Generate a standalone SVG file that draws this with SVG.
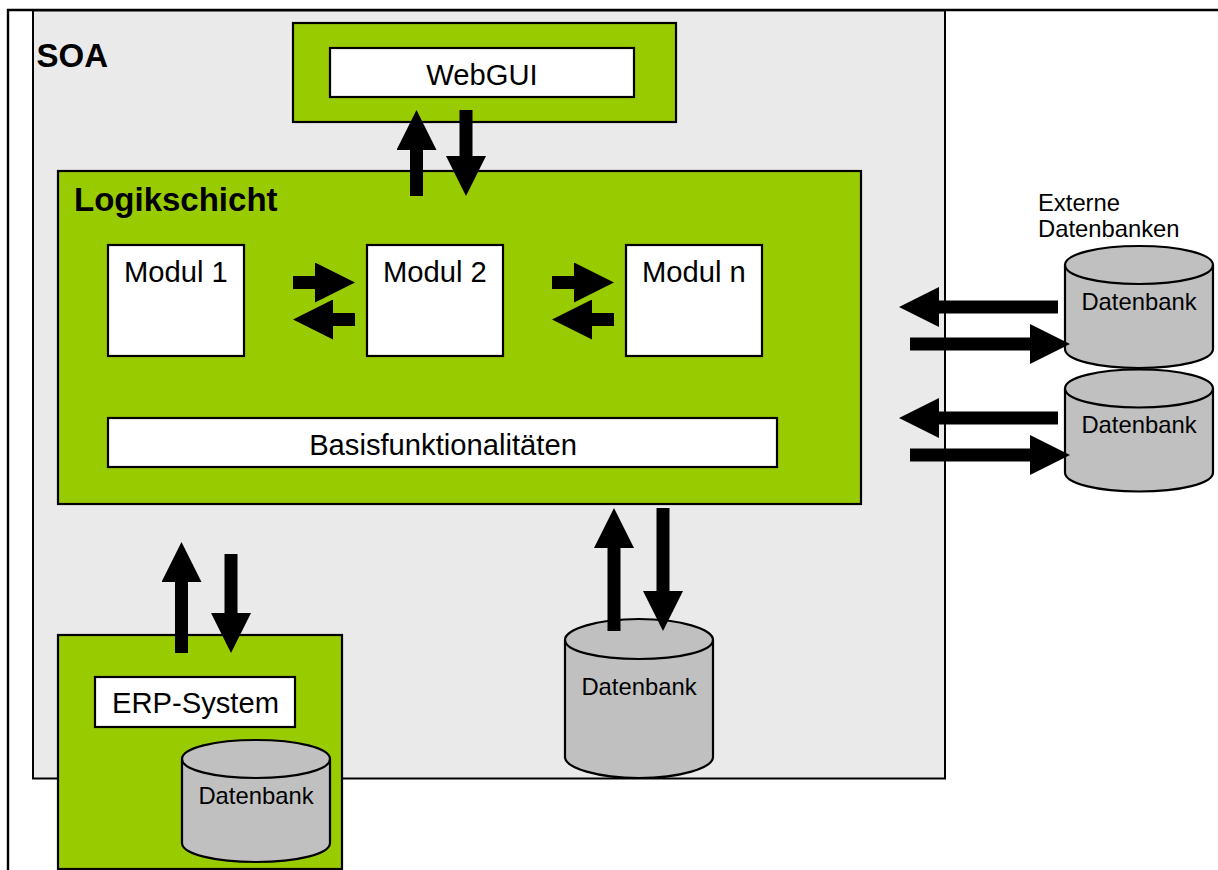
<svg xmlns="http://www.w3.org/2000/svg" width="1218" height="870" viewBox="0 0 1218 870">
<style>
text{font-family:"Liberation Sans",Arial,sans-serif;fill:#000}
.g{fill:#99cc00;stroke:#000;stroke-width:2.2}
.w{fill:#fff;stroke:#000;stroke-width:2.2}
.c{fill:#c0c0c0;stroke:#000;stroke-width:2.2}
.n{fill:none;stroke:#000;stroke-width:2.2}
.l{font-size:29.2px}
.d{font-size:23.8px}
.b{font-weight:bold;font-size:33px}
.a{stroke:#000;stroke-width:13;fill:none;marker-end:url(#h)}
</style>
<defs>
<marker id="h" markerUnits="userSpaceOnUse" markerWidth="41" markerHeight="40" refX="0" refY="20" orient="auto"><path d="M0,0L40,20L0,40Z" fill="#000"/></marker>
<g id="cyl"><path class="c" d="M0,19C0,8 33,0 74,0S148,8 148,19V103C148,114 115,122 74,122S0,114 0,103Z"/><path class="n" d="M0,19C0,30 33,38 74,38S148,30 148,19"/></g>
</defs>
<rect width="1218" height="870" fill="#fff"/>
<g id="frame"><path d="M1218,10H8V870" fill="none" stroke="#000" stroke-width="2.4"/></g>
<g id="soa"><rect x="33" y="10.500" width="912" height="768" fill="#eaeaea" stroke="#000" stroke-width="2"/><text class="b" x="36.500" y="67">SOA</text></g>
<g id="webgui"><rect class="g" x="293" y="23" width="383" height="99"/><rect class="w" x="330" y="48" width="304" height="49"/><text class="l" x="482" y="85" text-anchor="middle">WebGUI</text></g>
<g id="logikschicht"><rect class="g" x="58" y="171" width="803" height="333"/><text class="b" x="74" y="211">Logikschicht</text></g>
<g id="modul1"><rect class="w" x="108" y="245" width="136" height="111"/><text class="l" x="124" y="282">Modul 1</text></g>
<g id="modul2"><rect class="w" x="367" y="245" width="136" height="111"/><text class="l" x="383" y="282">Modul 2</text></g>
<g id="moduln"><rect class="w" x="626" y="245" width="136" height="111"/><text class="l" x="642" y="282">Modul n</text></g>
<g id="basis"><rect class="w" x="108" y="418" width="669" height="49"/><text class="l" x="443" y="455" text-anchor="middle">Basisfunktionalitäten</text></g>
<g id="erp"><rect class="g" x="58" y="635" width="284" height="234"/><rect class="w" x="95" y="677" width="200" height="50"/><text class="l" x="195.500" y="713" text-anchor="middle">ERP-System</text></g>
<g id="db-erp"><use href="#cyl" x="182" y="740"/><text class="d" x="256" y="804" text-anchor="middle">Datenbank</text></g>
<g id="db-central"><path class="c" d="M565,640C565,629 598,619 639,619S713,629 713,640V757C713,768 680,778 639,778S565,768 565,757Z"/><path class="n" d="M565,640C565,651 598,659 639,659S713,651 713,640"/><text class="d" x="639" y="695" text-anchor="middle">Datenbank</text></g>
<g id="db-ext1"><use href="#cyl" x="1065" y="246"/><text class="d" x="1139" y="310" text-anchor="middle">Datenbank</text></g>
<g id="db-ext2"><use href="#cyl" x="1065" y="369.500"/><text class="d" x="1139" y="433" text-anchor="middle">Datenbank</text></g>
<g id="label-extern"><text x="1038" y="211" font-size="23.800">Externe</text><text x="1038" y="237" font-size="23.800">Datenbanken</text></g>
<g id="connectors">
<line class="a" x1="416.500" y1="196" x2="416.500" y2="150"/>
<line class="a" x1="466" y1="110" x2="466" y2="156"/>
<line class="a" x1="293" y1="282.500" x2="315" y2="282.500"/>
<line class="a" x1="355" y1="319.500" x2="333" y2="319.500"/>
<line class="a" x1="552" y1="282.500" x2="574" y2="282.500"/>
<line class="a" x1="614" y1="319.500" x2="592" y2="319.500"/>
<line class="a" x1="1058" y1="307" x2="939" y2="307"/>
<line class="a" x1="910" y1="344" x2="1030" y2="344"/>
<line class="a" x1="1058" y1="418" x2="939" y2="418"/>
<line class="a" x1="910" y1="455" x2="1030" y2="455"/>
<line class="a" x1="614" y1="631" x2="614" y2="548"/>
<line class="a" x1="663" y1="508" x2="663" y2="591"/>
<line class="a" x1="181.500" y1="653" x2="181.500" y2="582"/>
<line class="a" x1="231" y1="554" x2="231" y2="613"/>
</g>
</svg>
